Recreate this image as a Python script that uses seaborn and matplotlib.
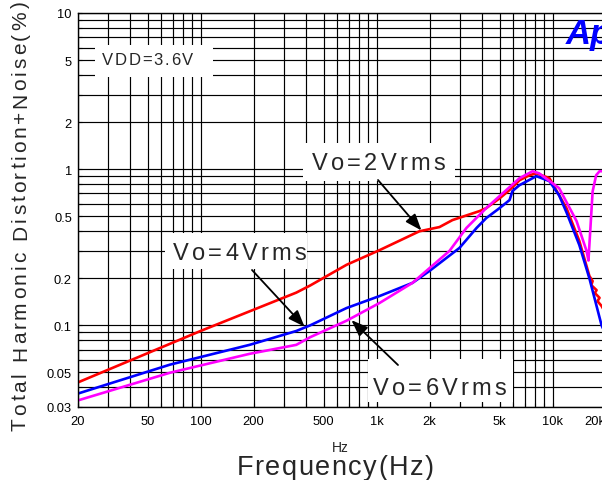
import numpy as np
import pandas as pd
import matplotlib
matplotlib.use("Agg")
import matplotlib.pyplot as plt
import seaborn as sns
from matplotlib import font_manager
from matplotlib.ticker import FixedLocator, FixedFormatter, LogLocator, NullFormatter
from matplotlib.transforms import offset_copy
from matplotlib.patches import Rectangle

# THD+N versus frequency, one curve per output level
freq_2v = [20, 100, 350, 420, 675, 1040, 1750, 2280, 2700, 3850, 4200, 5000, 5700,
           6500, 7400, 8100, 9600, 12000, 14200, 16200, 16900, 16600, 17800, 17400,
           18500, 18000, 19000, 20000]
thd_2v = [0.043, 0.092, 0.162, 0.18, 0.244, 0.303, 0.40, 0.426, 0.472, 0.539, 0.563,
          0.65, 0.735, 0.85, 0.915, 0.94, 0.876, 0.563, 0.347, 0.207, 0.192, 0.181,
          0.168, 0.161, 0.15, 0.143, 0.133, 0.12]

freq_4v = [20, 67, 190, 350, 420, 675, 1040, 1600, 2000, 2960, 3700, 4200, 5000, 5700,
           5920, 6490, 8100, 9600, 10900, 12000, 14200, 16200, 19000, 20000]
thd_4v = [0.0365, 0.056, 0.075, 0.092, 0.10, 0.129, 0.154, 0.187, 0.223, 0.313, 0.42,
          0.486, 0.563, 0.634, 0.724, 0.79, 0.902, 0.838, 0.68, 0.53, 0.327, 0.20,
          0.10, 0.088]

freq_6v = [20, 67, 190, 350, 420, 675, 1040, 1600, 2600, 3240, 4200, 5000, 6500, 7700,
           8400, 10900, 13700, 15600, 16000, 16900, 17700, 18500, 20000]
thd_6v = [0.033, 0.0497, 0.0657, 0.075, 0.084, 0.107, 0.139, 0.187, 0.30, 0.42, 0.563,
          0.672, 0.876, 0.97, 0.94, 0.756, 0.465, 0.30, 0.26, 0.72, 0.915, 0.97, 0.97]

series_names = ["Vo=2Vrms", "Vo=4Vrms", "Vo=6Vrms"]
series_colors = ["#ff0000", "#0000ff", "#ff00ff"]

x_ticks = [20, 50, 100, 200, 500, 1000, 2000, 5000, 10000, 20000]
x_tick_labels = ["20", "50", "100", "200", "500", "1k", "2k", "5k", "10k", "20k"]
y_ticks = [0.03, 0.05, 0.1, 0.2, 0.5, 1, 2, 5, 10]
y_tick_labels = ["0.03", "0.05", "0.1", "0.2", "0.5", "1", "2", "5", "10"]

sns.set_style("ticks")
plt.rcParams["font.family"] = ["Liberation Sans", "DejaVu Sans"]

installed = {f.name for f in font_manager.fontManager.ttflist}
if "Liberation Sans Narrow" in installed:
    tick_family, tick_size = "Liberation Sans Narrow", 11
else:
    tick_family, tick_size = "Liberation Sans", 9.3

W, H = 602, 481
fig = plt.figure(figsize=(W / 100, H / 100), dpi=100)
fig.patch.set_facecolor("white")
ax = fig.add_axes([77.5 / W, 1 - 408 / H, 528 / W, 394 / H])
ax.set_xscale("log")
ax.set_yscale("log")

frames = []
for name, f, v in zip(series_names, [freq_2v, freq_4v, freq_6v], [thd_2v, thd_4v, thd_6v]):
    frames.append(pd.DataFrame({"freq": f, "thd": v, "level": name}))
df = pd.concat(frames, ignore_index=True)

sns.lineplot(data=df, x="freq", y="thd", hue="level", hue_order=series_names,
             palette=dict(zip(series_names, series_colors)), estimator=None,
             sort=False, linewidth=1.9, legend=False, ax=ax, zorder=2)

ax.set_xlim(20, 20000)
ax.set_ylim(0.03, 10)

ax.xaxis.set_major_locator(FixedLocator(x_ticks))
ax.xaxis.set_major_formatter(FixedFormatter(x_tick_labels))
ax.xaxis.set_minor_locator(LogLocator(base=10, subs=np.arange(1, 10), numticks=60))
ax.xaxis.set_minor_formatter(NullFormatter())
ax.yaxis.set_major_locator(FixedLocator(y_ticks))
ax.yaxis.set_major_formatter(FixedFormatter(y_tick_labels))
ax.yaxis.set_minor_locator(LogLocator(base=10, subs=np.arange(1, 10), numticks=60))
ax.yaxis.set_minor_formatter(NullFormatter())

ax.grid(True, which="both", color="black", linewidth=0.85)
ax.set_axisbelow(True)
ax.tick_params(which="both", direction="in", length=3, width=0.8, colors="black",
               top=False, right=False)
ax.tick_params(axis="x", pad=6)
ax.tick_params(axis="y", pad=4)
for lab in ax.get_xticklabels() + ax.get_yticklabels():
    lab.set_fontfamily(tick_family)
    lab.set_fontsize(tick_size)
ax.get_xticklabels()[-1].set_horizontalalignment("right")
for s in ax.spines.values():
    s.set_color("black")
    s.set_linewidth(1.0)
ax.set_xlabel("")
ax.set_ylabel("")


def px(x, y):
    return (x / W, 1 - y / H)


def spaced_text(x_px, y_px, s, size, spacing, rotation=0, align="left", **kw):
    """Draw a string one glyph at a time with extra tracking (in points)."""
    prop = font_manager.FontProperties(family="Liberation Sans", size=size)
    font = font_manager.get_font(font_manager.findfont(prop))
    font.set_size(size, 72)
    pens = []
    pen = 0.0
    for ch in s:
        g = font.load_char(ord(ch))
        pens.append(pen)
        pen += g.linearHoriAdvance / 65536.0 + spacing
    total = pen - spacing
    start = {"left": 0.0, "center": -total / 2, "right": -total}[align]
    for ch, p in zip(s, pens):
        if ch == " ":
            continue
        off = start + p
        dx, dy = (0, off) if rotation == 90 else (off, 0)
        tr = offset_copy(fig.transFigure, fig=fig, x=dx, y=dy, units="points")
        fig.text(*px(x_px, y_px), ch, transform=tr, fontproperties=prop,
                 rotation=rotation, rotation_mode="anchor", ha="left",
                 va="baseline", **kw)
    return total


def white_box(x0, y0, x1, y1):
    ax.add_patch(Rectangle(px(x0, y1), (x1 - x0) / W, (y1 - y0) / H,
                           transform=fig.transFigure, facecolor="white",
                           edgecolor="none", zorder=3, clip_on=False))


# Condition label
white_box(95, 46, 213, 78)
spaced_text(102, 65, "VDD=3.6V", 12, 1.2, zorder=5)

# Curve labels with arrows
label_spots = {
    "Vo=2Vrms": dict(box=(303, 144, 455, 182), text=(312, 170), tail=(378, 181), head=(1800, 0.405)),
    "Vo=4Vrms": dict(box=(165, 234, 307, 270), text=(173, 260), tail=(252, 271), head=(390, 0.098)),
    "Vo=6Vrms": dict(box=(368, 360, 513, 403), text=(373, 395), tail=(398, 366), head=(720, 0.108)),
}
for name in series_names:
    spot = label_spots[name]
    white_box(*spot["box"])
    spaced_text(*spot["text"], name, 17, 2.3, zorder=5)
    ax.annotate("", xy=spot["head"], xycoords="data",
                xytext=px(*spot["tail"]), textcoords="figure fraction",
                arrowprops=dict(arrowstyle="-|>,head_length=1.0,head_width=0.38",
                                mutation_scale=10, color="black", lw=1.3,
                                shrinkA=0, shrinkB=0),
                zorder=6, annotation_clip=False)

# Axis titles
spaced_text(26, 216, "Total Harmonic Distortion+Noise(%)", 15, 2.1, rotation=90,
            align="center")
spaced_text(335, 475, "Frequency(Hz)", 19.5, 1.1, align="center")
fig.text(*px(340, 452), "Hz", fontsize=10, ha="center", va="baseline",
         family="Liberation Sans")

# Maker mark
fig.text(*px(566, 44), "Ap", color="#0000ff", fontsize=25, fontweight="bold",
         fontstyle="italic", family="Liberation Sans", ha="left", va="baseline")

fig.savefig("out.png", dpi=100, facecolor="white")
